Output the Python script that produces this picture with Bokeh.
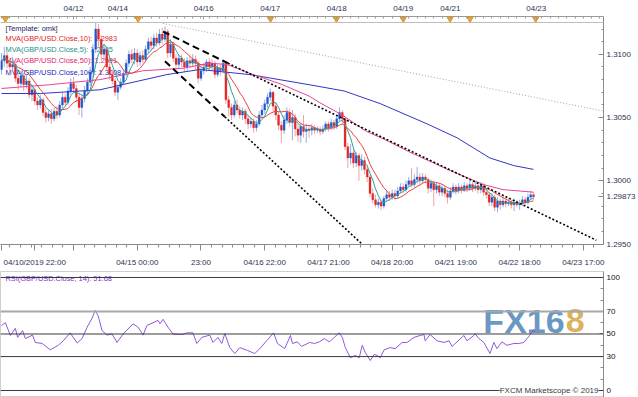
import numpy as np
import pandas as pd
from bokeh.plotting import figure
from bokeh.layouts import column
from bokeh.models import (Range1d, LinearAxis, FixedTicker, Span, Label,
                          ColumnDataSource)
from bokeh.core.properties import value
from bokeh.embed import file_html
from bokeh.resources import INLINE

# ---------------- data (GBP/USD hourly candles) ----------------
opens = [
    1.3088, 1.3095, 1.3099, 1.3093, 1.3090, 1.3092, 1.3081, 1.3077, 1.3083, 1.3076,
    1.3079, 1.3068, 1.3072, 1.3063, 1.3060, 1.3064, 1.3054, 1.3050, 1.3053, 1.3049,
    1.3055, 1.3052, 1.3060, 1.3066, 1.3062, 1.3071, 1.3077, 1.3073, 1.3066, 1.3058,
    1.3065, 1.3071, 1.3078, 1.3086, 1.3104, 1.3120, 1.3112, 1.3100, 1.3104, 1.3090,
    1.3084, 1.3079, 1.3070, 1.3074, 1.3078, 1.3085, 1.3093, 1.3100, 1.3096, 1.3101,
    1.3094, 1.3099, 1.3096, 1.3104, 1.3110, 1.3107, 1.3113, 1.3109, 1.3116, 1.3112,
    1.3118, 1.3101, 1.3108, 1.3097, 1.3092, 1.3097, 1.3094, 1.3090, 1.3095, 1.3093,
    1.3096, 1.3093, 1.3081, 1.3087, 1.3090, 1.3094, 1.3090, 1.3093, 1.3084, 1.3089,
    1.3087, 1.3093, 1.3064, 1.3058, 1.3052, 1.3060, 1.3056, 1.3052, 1.3055, 1.3049,
    1.3045, 1.3047, 1.3042, 1.3045, 1.3052, 1.3056, 1.3061, 1.3066, 1.3070, 1.3059,
    1.3052, 1.3044, 1.3040, 1.3048, 1.3054, 1.3046, 1.3050, 1.3041, 1.3036, 1.3043,
    1.3039, 1.3041, 1.3040, 1.3042, 1.3040, 1.3041, 1.3039, 1.3041, 1.3045, 1.3042,
    1.3046, 1.3043, 1.3049, 1.3054, 1.3049, 1.3027, 1.3018, 1.3022, 1.3014, 1.3020,
    1.3012, 1.3016, 1.3009, 1.3003, 1.2990, 1.2985, 1.2981, 1.2983, 1.2980, 1.2986,
    1.2989, 1.2987, 1.2990, 1.2988, 1.2992, 1.2995, 1.2993, 1.2997, 1.3000, 1.2997,
    1.3001, 1.3003, 1.3000, 1.3003, 1.3001, 1.2994, 1.2998, 1.2993, 1.2996, 1.2991,
    1.2994, 1.2990, 1.2987, 1.2992, 1.2995, 1.2992, 1.2995, 1.2993, 1.2996, 1.2994,
    1.2997, 1.2994, 1.2996, 1.2993, 1.2996, 1.2991, 1.2989, 1.2983, 1.2987, 1.2979,
    1.2984, 1.2981, 1.2984, 1.2982, 1.2983, 1.2981, 1.2983, 1.2981, 1.2982, 1.2985,
    1.2983, 1.2987, 1.2989]
highs = [
    1.3101, 1.3106, 1.3102, 1.3096, 1.3098, 1.3094, 1.3085, 1.3087, 1.3085, 1.3084,
    1.3081, 1.3076, 1.3074, 1.3066, 1.3068, 1.3066, 1.3058, 1.3056, 1.3057, 1.3058,
    1.3059, 1.3063, 1.3070, 1.3069, 1.3074, 1.3081, 1.3082, 1.3076, 1.3069, 1.3068,
    1.3075, 1.3081, 1.3090, 1.3108, 1.3125, 1.3124, 1.3115, 1.3108, 1.3106, 1.3093,
    1.3088, 1.3081, 1.3076, 1.3081, 1.3088, 1.3096, 1.3103, 1.3104, 1.3105, 1.3104,
    1.3102, 1.3103, 1.3107, 1.3113, 1.3114, 1.3116, 1.3117, 1.3120, 1.3121, 1.3122,
    1.3120, 1.3112, 1.3110, 1.3100, 1.3100, 1.3100, 1.3097, 1.3098, 1.3099, 1.3100,
    1.3099, 1.3095, 1.3090, 1.3093, 1.3096, 1.3097, 1.3096, 1.3095, 1.3092, 1.3092,
    1.3096, 1.3095, 1.3067, 1.3061, 1.3063, 1.3064, 1.3059, 1.3058, 1.3057, 1.3052,
    1.3050, 1.3049, 1.3048, 1.3055, 1.3060, 1.3064, 1.3069, 1.3073, 1.3071, 1.3062,
    1.3055, 1.3047, 1.3052, 1.3058, 1.3057, 1.3056, 1.3053, 1.3045, 1.3046, 1.3052,
    1.3045, 1.3044, 1.3045, 1.3044, 1.3043, 1.3043, 1.3044, 1.3047, 1.3047, 1.3049,
    1.3048, 1.3052, 1.3058, 1.3056, 1.3050, 1.3030, 1.3029, 1.3025, 1.3023, 1.3022,
    1.3021, 1.3019, 1.3012, 1.3005, 1.2994, 1.2989, 1.2986, 1.2985, 1.2988, 1.2992,
    1.2992, 1.2993, 1.2993, 1.2995, 1.2998, 1.2998, 1.3000, 1.3003, 1.3010, 1.3005,
    1.3011, 1.3006, 1.3006, 1.3005, 1.3003, 1.3001, 1.3000, 1.2999, 1.2998, 1.2997,
    1.2996, 1.2993, 1.2995, 1.2998, 1.2997, 1.2998, 1.2997, 1.2999, 1.2998, 1.3000,
    1.2999, 1.2999, 1.2998, 1.2999, 1.2998, 1.2994, 1.2991, 1.2990, 1.2989, 1.2987,
    1.2986, 1.2987, 1.2986, 1.2986, 1.2985, 1.2986, 1.2985, 1.2985, 1.2988, 1.2987,
    1.2990, 1.2992, 1.2991]
lows = [
    1.3084, 1.3090, 1.3089, 1.3083, 1.3086, 1.3078, 1.3072, 1.3074, 1.3071, 1.3073,
    1.3065, 1.3063, 1.3060, 1.3056, 1.3057, 1.3051, 1.3046, 1.3047, 1.3045, 1.3047,
    1.3049, 1.3050, 1.3057, 1.3059, 1.3060, 1.3068, 1.3070, 1.3062, 1.3052, 1.3050,
    1.3062, 1.3068, 1.3075, 1.3084, 1.3101, 1.3106, 1.3095, 1.3096, 1.3087, 1.3080,
    1.3076, 1.3067, 1.3064, 1.3072, 1.3076, 1.3083, 1.3090, 1.3093, 1.3092, 1.3090,
    1.3091, 1.3093, 1.3094, 1.3101, 1.3103, 1.3104, 1.3106, 1.3107, 1.3108, 1.3110,
    1.3097, 1.3098, 1.3094, 1.3088, 1.3089, 1.3090, 1.3086, 1.3087, 1.3089, 1.3090,
    1.3088, 1.3077, 1.3079, 1.3084, 1.3086, 1.3087, 1.3087, 1.3081, 1.3082, 1.3083,
    1.3085, 1.3061, 1.3051, 1.3048, 1.3050, 1.3053, 1.3049, 1.3048, 1.3045, 1.3041,
    1.3042, 1.3038, 1.3039, 1.3043, 1.3050, 1.3053, 1.3058, 1.3063, 1.3055, 1.3048,
    1.3040, 1.3030, 1.3037, 1.3045, 1.3043, 1.3032, 1.3035, 1.3031, 1.3030, 1.3034,
    1.3030, 1.3034, 1.3036, 1.3037, 1.3038, 1.3036, 1.3037, 1.3039, 1.3039, 1.3040,
    1.3040, 1.3041, 1.3047, 1.3045, 1.3024, 1.3010, 1.3013, 1.3010, 1.3011, 1.3000,
    1.3008, 1.3005, 1.2999, 1.2987, 1.2982, 1.2979, 1.2978, 1.2977, 1.2978, 1.2984,
    1.2984, 1.2985, 1.2985, 1.2986, 1.2990, 1.2990, 1.2991, 1.2995, 1.2995, 1.2995,
    1.2998, 1.2997, 1.2998, 1.2998, 1.2990, 1.2991, 1.2980, 1.2990, 1.2988, 1.2988,
    1.2987, 1.2982, 1.2985, 1.2990, 1.2989, 1.2990, 1.2990, 1.2991, 1.2991, 1.2992,
    1.2991, 1.2992, 1.2990, 1.2990, 1.2988, 1.2986, 1.2980, 1.2980, 1.2976, 1.2975,
    1.2977, 1.2979, 1.2979, 1.2980, 1.2978, 1.2976, 1.2979, 1.2977, 1.2980, 1.2981,
    1.2981, 1.2985, 1.2985]
closes = [
    1.3095, 1.3099, 1.3093, 1.3090, 1.3092, 1.3081, 1.3077, 1.3083, 1.3076, 1.3079,
    1.3068, 1.3072, 1.3063, 1.3060, 1.3064, 1.3054, 1.3050, 1.3053, 1.3049, 1.3055,
    1.3052, 1.3060, 1.3066, 1.3062, 1.3071, 1.3077, 1.3073, 1.3066, 1.3058, 1.3065,
    1.3071, 1.3078, 1.3086, 1.3104, 1.3120, 1.3112, 1.3100, 1.3104, 1.3090, 1.3084,
    1.3079, 1.3070, 1.3074, 1.3078, 1.3085, 1.3093, 1.3100, 1.3096, 1.3101, 1.3094,
    1.3099, 1.3096, 1.3104, 1.3110, 1.3107, 1.3113, 1.3109, 1.3116, 1.3112, 1.3118,
    1.3101, 1.3108, 1.3097, 1.3092, 1.3097, 1.3094, 1.3090, 1.3095, 1.3093, 1.3096,
    1.3093, 1.3081, 1.3087, 1.3090, 1.3094, 1.3090, 1.3093, 1.3084, 1.3089, 1.3087,
    1.3093, 1.3064, 1.3058, 1.3052, 1.3060, 1.3056, 1.3052, 1.3055, 1.3049, 1.3045,
    1.3047, 1.3042, 1.3045, 1.3052, 1.3056, 1.3061, 1.3066, 1.3070, 1.3059, 1.3052,
    1.3044, 1.3040, 1.3048, 1.3054, 1.3046, 1.3050, 1.3041, 1.3036, 1.3043, 1.3039,
    1.3041, 1.3040, 1.3042, 1.3040, 1.3041, 1.3039, 1.3041, 1.3045, 1.3042, 1.3046,
    1.3043, 1.3049, 1.3054, 1.3049, 1.3027, 1.3018, 1.3022, 1.3014, 1.3020, 1.3012,
    1.3016, 1.3009, 1.3003, 1.2990, 1.2985, 1.2981, 1.2983, 1.2980, 1.2986, 1.2989,
    1.2987, 1.2990, 1.2988, 1.2992, 1.2995, 1.2993, 1.2997, 1.3000, 1.2997, 1.3001,
    1.3003, 1.3000, 1.3003, 1.3001, 1.2994, 1.2998, 1.2993, 1.2996, 1.2991, 1.2994,
    1.2990, 1.2987, 1.2992, 1.2995, 1.2992, 1.2995, 1.2993, 1.2996, 1.2994, 1.2997,
    1.2994, 1.2996, 1.2993, 1.2996, 1.2991, 1.2989, 1.2983, 1.2987, 1.2979, 1.2984,
    1.2981, 1.2984, 1.2982, 1.2983, 1.2981, 1.2983, 1.2981, 1.2982, 1.2985, 1.2983,
    1.2987, 1.2989, 1.29873]
last_price_label = "1.29873"

# long moving averages (bar position, value)
ma50_x = [0, 17.6, 35.6, 51, 65.5, 75, 81.3, 89.6, 101.4, 111, 114.7, 123, 131.7,
          138, 147, 150, 162, 174, 181, 192]
ma50_v = [1.3073, 1.3076, 1.3080, 1.3087, 1.3089, 1.3093, 1.3092, 1.3085, 1.3076,
          1.3067, 1.3062, 1.3052, 1.3039, 1.3033, 1.3023, 1.3020, 1.3008, 1.2997,
          1.2993, 1.2991]
ma100_x = [0, 14, 28.4, 35.6, 59.7, 71.6, 89.6, 111, 123.7, 136.7, 153.6, 164.4,
           176.3, 184.9, 192]
ma100_v = [1.3069, 1.3069, 1.3071, 1.3072, 1.3084, 1.3088, 1.3084, 1.3076, 1.3071,
           1.3061, 1.3045, 1.3034, 1.3018, 1.3012, 1.3009]

# RSI(14)
rsi_x = [0, 1.4, 3.2, 5, 5.8, 7.6, 8.6, 11.2, 12.2, 14.7, 17.6, 20.5, 22.3, 24.8,
         27.3, 29.1, 30.9, 32.7, 33.8, 34.9, 36.3, 38.1, 39.9, 41.7, 43.9, 47.5,
         49.3, 51.1, 52.5, 54.7, 56.5, 57.2, 58.3, 60.1, 61.9, 65.1, 66.9, 69.1,
         70.5, 72.3, 75.2, 76.3, 78.1, 79.5, 80.6, 82.4, 84.2, 86, 88.8, 91.4,
         93.2, 95.7, 98.2, 99.6, 102.2, 104.3, 105, 106.8, 108.3, 111.2, 113,
         114.7, 116.5, 118.3, 120.1, 121.9, 123, 124.1, 125.9, 127.7, 129.1,
         130.2, 131.3, 133.1, 134.5, 135.6, 136.7, 138.1, 140.3, 142.1, 144.6,
         146.4, 148.9, 151.1, 152.5, 152.9, 154.7, 157.2, 159.7, 161.5, 162.6,
         164.4, 166.9, 168, 170.5, 170.9, 172.3, 174.1, 176.3, 177.7, 178.8,
         180.6, 182.4, 184.9, 186.7, 188.5, 190.6, 192.1, 192.4]
rsi_v = [57.5, 60, 48.7, 55, 47, 53, 46, 49, 42.5, 41.6, 36, 40, 44, 51, 42, 46,
         56, 64, 71, 66, 53, 49, 50, 42.5, 50, 59, 56, 49, 57.5, 60, 62, 59, 63,
         56, 50, 49.5, 51, 51, 41.6, 47, 49, 42.5, 47, 41.6, 50.4, 38, 32.7, 38,
         35.4, 32.7, 37, 44, 51, 41.6, 37, 48.7, 41.6, 43, 39, 42.5, 41.6, 43, 46,
         43, 47, 51, 47, 38, 29, 31, 29, 40, 33.6, 26.5, 32, 31, 29, 36, 38, 37,
         42.5, 42.5, 47, 48.7, 49.5, 44, 49.5, 44, 42.5, 44, 39, 43, 48.7, 44,
         48.7, 50.4, 46, 42.5, 32.7, 42.5, 37, 43, 40, 41.6, 41.6, 42.5, 48.7,
         54, 51.68]

# drawn trend lines (bar position, price)
upper_dash_x = [58.3, 81.7]
upper_dash_y = [1.3118, 1.3093]
upper_dot_x = [81.7, 214.7]
upper_dot_y = [1.3093, 1.2953]
lower_dash_x = [59.0, 80.6]
lower_dash_y = [1.30945, 1.30506]
lower_dot_x = [80.6, 129.9]
lower_dot_y = [1.30506, 1.29504]
grey_line_x = [58.3, 217.3]
grey_line_y = [1.31244, 1.30551]

# axis ticks / labels
bottom_tick_pos = [0, 12, 26, 49, 72, 95, 118, 141, 164, 187, 210]
bottom_tick_lab = ["", "04/10/2019 22:00", "", "04/15 00:00", "23:00", "04/16 22:00",
                   "04/17 21:00", "04/18 20:00", "04/21 19:00", "04/22 18:00",
                   "04/23 17:00"]
top_tick_pos = [26, 42, 73, 97, 121, 145, 162, 193]
top_tick_lab = ["04/12", "04/14", "04/16", "04/17", "04/18", "04/19", "04/21", "04/23"]
event_x = [1.4, 49.3, 97.1, 120.9, 145.0, 161.9, 169.1, 192.8]
price_ticks = [1.2950, 1.3000, 1.3050, 1.3100]
price_tick_lab = ["1.2950", "1.3000", "1.3050", "1.3100"]
rsi_ticks = [0, 30, 50, 70, 100]
rsi_tick_lab = ["0", "30", "50", "70", "100"]
rsi_levels = [100, 70, 50, 30, 0]

legend_texts = ["[Template: omk]", "MVA(GBP/USD.Close,10): 1.2983",
                "MVA(GBP/USD.Close,5): 1.2985", "MVA(GBP/USD.Close,50): 1.2991",
                "MVA(GBP/USD.Close,100): 1.3008"]
rsi_text = "RSI(GBP/USD.Close, 14): 51.68"

# ---------------- layout constants (page is drawn 1:1 with the reference) ----------------
FONT = "'Liberation Sans', Arial, sans-serif"
W, FRAME_W = 638, 605
H1, H2 = 271, 126
TOP1, FRAME_H1 = 15, 229
XR = (-0.36, 217.27)
YR = (1.294961, 1.312992)
RR = (-6.2, 105.3)


def xpx(px):
    return XR[0] + px / FRAME_W * (XR[1] - XR[0])


def ypx(py):
    return YR[1] - (py - TOP1) / FRAME_H1 * (YR[1] - YR[0])


def rpx(py):
    return RR[1] - (py - H1) / H2 * (RR[1] - RR[0])


# ---------------- price panel ----------------
p = figure(width=W, height=H1, x_range=Range1d(*XR), y_range=Range1d(*YR),
           x_axis_location="below", y_axis_location="right",
           output_backend="svg", toolbar_location=None,
           min_border_left=0, min_border_right=W - FRAME_W,
           min_border_top=TOP1, min_border_bottom=H1 - TOP1 - FRAME_H1,
           outline_line_color=None, background_fill_color="white",
           border_fill_color="white")
p.xgrid.visible = False
p.ygrid.visible = False

LABEL_COLOR = "#2b3350"
AX_FS = "8px"

xa = p.xaxis[0]
bot_minor = [26 + k * 23 / 6 for k in range(-7, 60) if XR[0] <= 26 + k * 23 / 6 <= XR[1]]
xa.ticker = FixedTicker(ticks=bottom_tick_pos, minor_ticks=bot_minor)
xa.major_label_overrides = dict(zip(bottom_tick_pos, bottom_tick_lab))
xa.axis_line_color = "#8a8a8a"
xa.major_tick_line_color = "#8a8a8a"
xa.minor_tick_line_color = "#8a8a8a"
xa.major_tick_in, xa.major_tick_out = 0, 6
xa.minor_tick_in, xa.minor_tick_out = 0, 3
xa.major_label_standoff = 7
xa.major_label_text_font = FONT
xa.major_label_text_font_size = AX_FS
xa.major_label_text_color = LABEL_COLOR

ya = p.yaxis[0]
price_minor = [round(1.295 + k * 0.001, 3) for k in range(0, 19)]
ya.ticker = FixedTicker(ticks=price_ticks + [closes[-1]], minor_ticks=price_minor)
ya.major_label_overrides = dict(zip(price_ticks + [closes[-1]],
                                    price_tick_lab + [last_price_label]))
ya.axis_line_color = "#8a8a8a"
ya.major_tick_line_color = "#8a8a8a"
ya.minor_tick_line_color = "#8a8a8a"
ya.major_tick_in, ya.major_tick_out = 5, 0
ya.minor_tick_in, ya.minor_tick_out = 2, 0
ya.major_label_standoff = 3
ya.major_label_text_font = FONT
ya.major_label_text_font_size = AX_FS
ya.major_label_text_color = LABEL_COLOR

top_minor = [k * 3 for k in range(0, 73)]
top_ax = LinearAxis(ticker=FixedTicker(ticks=top_tick_pos, minor_ticks=top_minor),
                    major_label_overrides=dict(zip(top_tick_pos, top_tick_lab)))
top_ax.axis_line_color = "#9a9a9a"
top_ax.major_tick_line_color = "#9a9a9a"
top_ax.minor_tick_line_color = "#9a9a9a"
top_ax.major_tick_in, top_ax.major_tick_out = 3, 0
top_ax.minor_tick_in, top_ax.minor_tick_out = 2, 0
top_ax.major_label_standoff = 4
top_ax.major_label_text_font = FONT
top_ax.major_label_text_font_size = AX_FS
top_ax.major_label_text_color = LABEL_COLOR
p.add_layout(top_ax, "above")

# top border of the price area
p.add_layout(Span(location=ypx(21), dimension="width", line_color="#bdbdbd", line_width=1))

# legend texts (behind the candles)
leg_colors = ["#1c1c66", "#e02424", "#1f8f88", "#e0206e", "#2424c4"]
leg_rows = [27, 37.5, 48, 59.5, 71]
p.text(x=[xpx(5)] * len(legend_texts), y=[ypx(r) for r in leg_rows], text=legend_texts,
       text_color=leg_colors, text_font=value(FONT), text_font_size="7.4px",
       text_baseline="middle", text_align="left", level="underlay")

# candles
o = np.array(opens); h = np.array(highs); l = np.array(lows); c = np.array(closes)
idx = np.arange(len(c))
up = c >= o
src = ColumnDataSource(dict(
    x=idx, h=h, l=l, top=np.maximum(o, c), bot=np.minimum(o, c),
    body=np.where(up, "#2456cc", "#e02626"),
    wick=np.where(up, "#8fb0e6", "#f2a2a2")))
p.segment(x0="x", y0="h", x1="x", y1="l", line_color="wick", line_width=1, source=src)
p.vbar(x="x", width=0.72, top="top", bottom="bot", fill_color="body",
       line_color="body", line_width=0.3, source=src)

# moving averages
ma5 = pd.Series(c).rolling(5, min_periods=1).mean().values
ma10 = pd.Series(c).rolling(10, min_periods=1).mean().values
p.line(ma100_x, ma100_v, line_color="#3434c8", line_width=1)
p.line(ma50_x, ma50_v, line_color="#e8449a", line_width=1)
p.line(idx, ma10, line_color="#e8423e", line_width=1)
p.line(idx, ma5, line_color="#2aa39a", line_width=1)

# trend lines
p.line(grey_line_x, grey_line_y, line_color="#a0a0a0", line_width=1, line_dash="1 2")
p.line(upper_dash_x, upper_dash_y, line_color="black", line_width=2, line_dash="7 4")
p.line(lower_dash_x, lower_dash_y, line_color="black", line_width=2, line_dash="7 4")
p.line(upper_dot_x, upper_dot_y, line_color="black", line_width=1.6, line_dash="2 2")
p.line(lower_dot_x, lower_dot_y, line_color="black", line_width=1.6, line_dash="2 2")

# event markers on the date strip
p.scatter(x=event_x, y=[ypx(17.5)] * len(event_x), marker="inverted_triangle",
          size=6, fill_color="#f2a526", line_color="#e09010")

# ---------------- RSI panel ----------------
r = figure(width=W, height=H2, x_range=p.x_range, y_range=Range1d(*RR),
           x_axis_location=None, y_axis_location="right",
           output_backend="svg", toolbar_location=None,
           min_border_left=0, min_border_right=W - FRAME_W,
           min_border_top=0, min_border_bottom=0,
           outline_line_color="#cfcfcf", background_fill_color="white",
           border_fill_color="white")
r.xgrid.visible = False
r.ygrid.visible = False

ra = r.yaxis[0]
ra.ticker = FixedTicker(ticks=rsi_ticks, minor_ticks=[10, 20, 40, 60, 80, 90])
ra.major_label_overrides = dict(zip(rsi_ticks, rsi_tick_lab))
ra.axis_line_color = "#8a8a8a"
ra.major_tick_line_color = "#8a8a8a"
ra.minor_tick_line_color = "#8a8a8a"
ra.major_tick_in, ra.major_tick_out = 4, 0
ra.minor_tick_in, ra.minor_tick_out = 3, 0
ra.major_label_standoff = 3
ra.major_label_text_font = FONT
ra.major_label_text_font_size = AX_FS
ra.major_label_text_color = "#111111"

for lev in rsi_levels:
    if lev == 70:
        r.add_layout(Span(location=lev, dimension="width", line_color="#a8a8a8", line_width=2))
    else:
        r.add_layout(Span(location=lev, dimension="width", line_color="#3a3a3a", line_width=1))

# FX168 watermark
r.text(x=[xpx(566)], y=[rpx(320)], text=["FX16"], text_color="#4f86b8", text_alpha=0.85,
       text_font=value("Liberation Sans"), text_font_style="bold", text_font_size="34px",
       text_align="right", text_baseline="alphabetic")
r.text(x=[xpx(567)], y=[rpx(320)], text=["8"], text_color="#d8a848", text_alpha=0.9,
       text_font=value("Liberation Sans"), text_font_style="bold", text_font_size="34px",
       text_align="left", text_baseline="alphabetic")

r.line(rsi_x, rsi_v, line_color="#9058dc", line_width=1)

r.text(x=[xpx(5)], y=[rpx(278)], text=[rsi_text], text_color="#8034c4",
       text_font=value(FONT), text_font_size="7.4px", text_baseline="middle",
       text_align="left")

r.add_layout(Label(x=xpx(600), y=0, text="FXCM Marketscope © 2019", text_font=FONT,
                   text_font_size="8px", text_color="#3a3a3a", text_align="right",
                   text_baseline="middle", background_fill_color="white"))

layout = column(p, r, spacing=0)
open("out.html", "w").write(file_html(layout, INLINE))
